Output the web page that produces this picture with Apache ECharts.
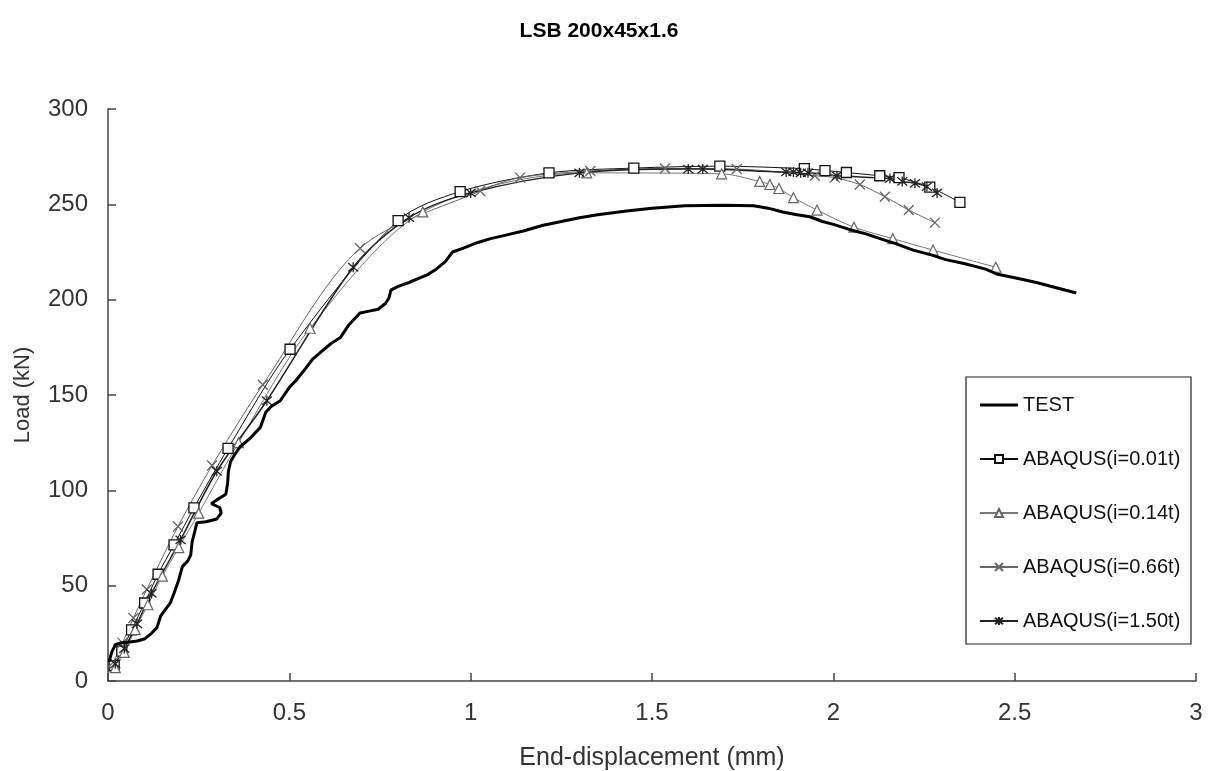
<!DOCTYPE html>
<html>
<head>
<meta charset="utf-8">
<script src="https://cdn.jsdelivr.net/npm/echarts@6/dist/echarts.min.js"></script>
<style>html,body{margin:0;padding:0;background:#fff}#c{width:1210px;height:771px}</style>
</head>
<body>
<div id="c"></div>
<script>
const titleText = 'LSB 200x45x1.6';
const xName = 'End-displacement (mm)';
const yName = 'Load (kN)';
const seriesNames = ['TEST', 'ABAQUS(i=0.01t)', 'ABAQUS(i=0.14t)', 'ABAQUS(i=0.66t)', 'ABAQUS(i=1.50t)'];

const testData = [[0.003,10],[0.01,15],[0.02,19],[0.035,20],[0.06,20.5],[0.08,21],[0.1,22],[0.12,25],[0.135,28],[0.145,34],[0.16,38],[0.172,41],[0.182,46],[0.195,53],[0.205,60],[0.22,63],[0.228,66],[0.232,73],[0.24,79],[0.245,83],[0.27,83.5],[0.3,85],[0.312,88],[0.308,91],[0.285,93],[0.3,95],[0.325,98],[0.33,104],[0.332,110],[0.338,115],[0.35,119],[0.365,123],[0.39,127],[0.42,133],[0.435,141],[0.45,144],[0.475,147],[0.5,154],[0.52,158],[0.545,164],[0.565,169],[0.59,173],[0.615,177],[0.64,180],[0.665,187],[0.695,193],[0.72,194],[0.745,195],[0.765,198],[0.775,201],[0.78,205],[0.8,207],[0.83,209],[0.855,211],[0.88,213],[0.905,216],[0.93,220],[0.95,225],[0.98,227],[1.02,230],[1.055,232],[1.1,234],[1.145,236],[1.2,239],[1.25,241],[1.3,243],[1.35,244.5],[1.43,246.5],[1.5,248],[1.59,249.3],[1.7,249.5],[1.78,249.3],[1.82,248],[1.86,246],[1.9,244.5],[1.935,243.5],[1.97,241],[2.0,239.5],[2.046,236.7],[2.09,234.5],[2.137,231.5],[2.17,229.5],[2.22,226],[2.27,223.5],[2.31,221],[2.36,219],[2.42,216],[2.45,213.5],[2.5,211.5],[2.56,209],[2.62,206],[2.67,203.5]];

const abq001 = [[0.017,8],[0.038,15.7],[0.065,26.8],[0.101,40.9],[0.138,56],[0.182,71.4],[0.237,90.8],[0.331,122],[0.502,174],[0.8,241.5],[0.971,256.7],[1.216,266.5],[1.45,269],[1.687,270],[1.92,268.7],[1.977,267.7],[2.036,266.7],[2.128,265],[2.181,264],[2.266,259],[2.349,251]];

const abq014 = [[0.02,7],[0.045,15],[0.075,27],[0.11,40],[0.15,55],[0.195,70],[0.25,88],[0.36,125],[0.557,185],[0.868,246],[1.32,266.5],[1.692,266],[1.797,262],[1.825,260.4],[1.85,258.3],[1.89,253.5],[1.955,247],[2.057,238],[2.164,232],[2.275,226],[2.448,217]];

const abq066 = [[0.015,10],[0.04,20],[0.07,33],[0.107,48],[0.193,81],[0.287,113],[0.427,155.4],[0.695,227],[1.026,257],[1.136,264],[1.33,267.5],[1.536,268.8],[1.734,268.5],[1.949,265],[2.004,264],[2.073,260.4],[2.142,254],[2.208,247],[2.28,240.4]];

const abq150 = [[0.02,9],[0.045,17],[0.08,30],[0.12,46],[0.2,74],[0.3,110],[0.438,147],[0.676,217],[0.83,243],[1.0,256],[1.3,266.5],[1.6,268.5],[1.64,268.5],[1.87,267],[1.89,267],[1.91,266.5],[1.93,266.5],[2.01,265],[2.156,263.5],[2.19,262],[2.225,261],[2.258,259.3],[2.286,256]];

const xTicks = {min: 0, max: 3, interval: 0.5};
const yTicks = {min: 0, max: 300, interval: 50};

const FONT = "'Liberation Sans', Arial, sans-serif";
const xSym = 'path://M0,0L10,10M10,0L0,10';
const starSym = 'path://M0,0L10,10M10,0L0,10M5,-1L5,11';
const testIcon = 'path://M0,0L40,0L40,3L0,3Z';

const chart = echarts.init(document.getElementById('c'), null, {renderer: 'canvas'});
chart.setOption({
  animation: false,
  backgroundColor: '#fff',
  textStyle: {fontFamily: FONT},
  title: {
    text: titleText, left: 594, top: 16, textAlign: 'center',
    textStyle: {fontFamily: FONT, fontSize: 21, fontWeight: 'bold', color: '#000'}
  },
  grid: {left: 108, right: 14, top: 109, bottom: 90, containLabel: false, outerBoundsMode: 'none'},
  xAxis: {
    type: 'value', min: xTicks.min, max: xTicks.max, interval: xTicks.interval,
    name: xName, nameLocation: 'middle', nameGap: 65,
    nameTextStyle: {fontFamily: FONT, fontSize: 25, color: '#333'},
    axisLine: {lineStyle: {color: '#444', width: 1.5}},
    axisTick: {inside: true, length: 8, lineStyle: {color: '#444', width: 1.5}},
    axisLabel: {fontFamily: FONT, fontSize: 24, color: '#333', margin: 20},
    splitLine: {show: false}
  },
  yAxis: {
    type: 'value', min: yTicks.min, max: yTicks.max, interval: yTicks.interval,
    name: yName, nameLocation: 'middle', nameGap: 74, nameRotate: 90,
    nameTextStyle: {fontFamily: FONT, fontSize: 22, color: '#333'},
    axisLine: {show: true, lineStyle: {color: '#444', width: 1.5}},
    axisTick: {show: true, inside: true, length: 8, lineStyle: {color: '#444', width: 1.5}},
    axisLabel: {fontFamily: FONT, fontSize: 24, color: '#333', margin: 20},
    splitLine: {show: false}
  },
  graphic: [{
    type: 'rect', z: 3, shape: {x: 966, y: 377, width: 225, height: 267},
    style: {fill: '#fff', stroke: '#222', lineWidth: 1.2}
  }],
  legend: {
    orient: 'vertical', left: 979, top: 395, z: 10, padding: 0,
    itemWidth: 38, itemHeight: 10, itemGap: 34,
    textStyle: {fontFamily: FONT, fontSize: 20, color: '#111'},
    data: [
      {name: seriesNames[0], icon: testIcon},
      seriesNames[1], seriesNames[2], seriesNames[3], seriesNames[4]
    ]
  },
  series: [
    {name: seriesNames[1], type: 'line', data: abq001, smooth: 0.3,
     symbol: 'rect', symbolSize: 10, showAllSymbol: true,
     lineStyle: {color: '#111', width: 1}, itemStyle: {color: '#fff', borderColor: '#111', borderWidth: 1.3}},
    {name: seriesNames[2], type: 'line', data: abq014, smooth: 0.3,
     symbol: 'triangle', symbolSize: 10, showAllSymbol: true,
     lineStyle: {color: '#777', width: 1}, itemStyle: {color: '#fff', borderColor: '#666', borderWidth: 1.2}},
    {name: seriesNames[3], type: 'line', data: abq066, smooth: 0.3,
     symbol: xSym, symbolSize: 10, showAllSymbol: true,
     lineStyle: {color: '#666', width: 1}, itemStyle: {color: '#666', borderColor: '#666', borderWidth: 1.3}},
    {name: seriesNames[4], type: 'line', data: abq150, smooth: 0.3,
     symbol: starSym, symbolSize: 10, showAllSymbol: true,
     lineStyle: {color: '#222', width: 1.5}, itemStyle: {color: '#222', borderColor: '#222', borderWidth: 1.3}},
    {name: seriesNames[0], type: 'line', data: testData, smooth: false,
     symbol: 'none', z: 5,
     lineStyle: {color: '#000', width: 3}, itemStyle: {color: '#000'}}
  ]
});
</script>
</body>
</html>
